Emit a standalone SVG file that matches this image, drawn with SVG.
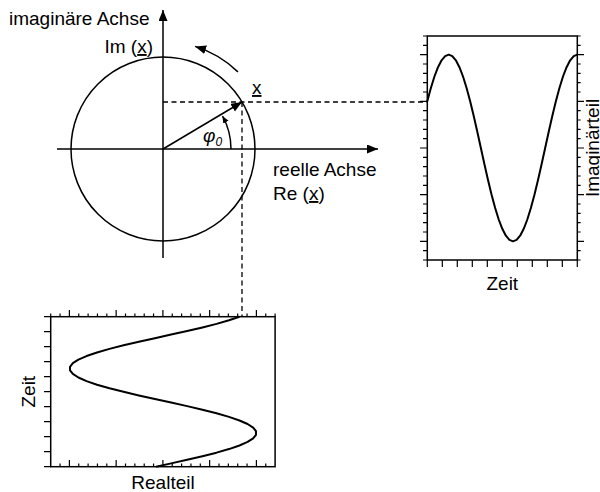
<svg xmlns="http://www.w3.org/2000/svg" width="600" height="492" viewBox="0 0 600 492">
<style>
text { font-family: "Liberation Sans", Arial, sans-serif; font-size: 19px; fill: #000; }
.ln { stroke: #000; stroke-width: 1.5; fill: none; }
.dash { stroke: #000; stroke-width: 1.3; stroke-dasharray: 5 3.5; fill: none; }
.tick { stroke: #000; stroke-width: 1.2; fill: none; }
.curve { stroke: #000; stroke-width: 2; fill: none; stroke-linejoin: round; }
.ul { text-decoration: underline; }
</style>
<defs>
<marker id="ah" markerUnits="userSpaceOnUse" markerWidth="12" markerHeight="10" refX="11" refY="4.5" orient="auto"><path d="M0,0 L11,4.5 L0,9 z" fill="#000"/></marker>
<marker id="ahs" markerUnits="userSpaceOnUse" markerWidth="8" markerHeight="7" refX="7" refY="3" orient="auto"><path d="M0,0 L7,3 L0,6 z" fill="#000"/></marker>
</defs>
<rect width="600" height="492" fill="#fff"/>

<g id="complex-plane">
  <circle cx="163" cy="149" r="92" class="ln"/>
  <line x1="163" y1="258" x2="163" y2="10" class="ln" marker-end="url(#ah)"/>
  <line x1="57" y1="149" x2="378" y2="149" class="ln" marker-end="url(#ah)"/>
  <line x1="163" y1="149" x2="242" y2="102" class="ln" marker-end="url(#ah)"/>
  <path d="M231,149 A68,68 0 0 0 222.5,116" class="ln" stroke-width="1.3" marker-end="url(#ahs)"/>
  <path d="M237.9,71.9 A107.5,107.5 0 0 0 195.1,46.4" class="ln" marker-end="url(#ah)"/>
  <text x="9" y="25">imaginäre Achse</text>
  <text x="153" y="53" text-anchor="end">Im (<tspan class="ul">x</tspan>)</text>
  <text x="273" y="176">reelle Achse</text>
  <text x="273" y="200">Re (<tspan class="ul">x</tspan>)</text>
  <text x="252" y="94" class="ul">x</text>
  <text x="203" y="142" font-style="italic">φ<tspan font-size="12" dy="4">0</tspan></text>
</g>

<g id="connectors">
  <line x1="163" y1="102" x2="427.3" y2="102" class="dash"/>
  <line x1="242" y1="102" x2="242" y2="316.7" class="dash"/>
</g>

<g id="imag-plot">
  <rect x="427.3" y="36" width="150" height="224" class="ln"/>
  <path class="tick" d="M427.3,36H423 M427.3,45.33H423 M427.3,54.67H420 M427.3,64H423 M427.3,73.33H423 M427.3,82.67H423 M427.3,92H423 M427.3,101.33H420 M427.3,110.67H423 M427.3,120H423 M427.3,129.33H423 M427.3,138.67H423 M427.3,148H420 M427.3,157.33H423 M427.3,166.67H423 M427.3,176H423 M427.3,185.33H423 M427.3,194.67H420 M427.3,204H423 M427.3,213.33H423 M427.3,222.67H423 M427.3,232H423 M427.3,241.33H420 M427.3,250.67H423 M427.3,260H423"/>
  <path class="tick" d="M577.3,36H580.6 M577.3,45.33H580.6 M577.3,54.67H584 M577.3,64H580.6 M577.3,73.33H580.6 M577.3,82.67H580.6 M577.3,92H580.6 M577.3,101.33H584 M577.3,110.67H580.6 M577.3,120H580.6 M577.3,129.33H580.6 M577.3,138.67H580.6 M577.3,148H584 M577.3,157.33H580.6 M577.3,166.67H580.6 M577.3,176H580.6 M577.3,185.33H580.6 M577.3,194.67H584 M577.3,204H580.6 M577.3,213.33H580.6 M577.3,222.67H580.6 M577.3,232H580.6 M577.3,241.33H584 M577.3,250.67H580.6 M577.3,260H580.6"/>
  <path class="tick" d="M427.3,260V267 M442.3,260V267 M457.3,260V267 M472.3,260V267 M487.3,260V267 M502.3,260V267 M517.3,260V267 M532.3,260V267 M547.3,260V267 M562.3,260V267 M577.3,260V267"/>
  <polyline class="curve" points="427.30,101.33 430.87,88.00 434.44,76.51 438.01,67.17 441.59,60.30 445.16,56.09 448.73,54.67 452.30,56.09 455.87,60.30 459.44,67.17 463.01,76.51 466.59,88.00 470.16,101.33 473.73,116.08 477.30,131.80 480.87,148.00 484.44,164.20 488.01,179.92 491.59,194.67 495.16,208.00 498.73,219.49 502.30,228.83 505.87,235.70 509.44,239.91 513.01,241.33 516.59,239.91 520.16,235.70 523.73,228.83 527.30,219.49 530.87,208.00 534.44,194.67 538.01,179.92 541.59,164.20 545.16,148.00 548.73,131.80 552.30,116.08 555.87,101.33 559.44,88.00 563.01,76.51 566.59,67.17 570.16,60.30 573.73,56.09 577.30,54.67"/>
  <text x="502.3" y="290" text-anchor="middle">Zeit</text>
  <text transform="translate(599,148) rotate(-90)" text-anchor="middle">Imaginärteil</text>
</g>

<g id="real-plot">
  <rect x="50.7" y="316.7" width="224.4" height="150" class="ln"/>
  <path class="tick" d="M50.7,316.7H44 M50.7,331.7H44 M50.7,346.7H44 M50.7,361.7H44 M50.7,376.7H44 M50.7,391.7H44 M50.7,406.7H44 M50.7,421.7H44 M50.7,436.7H44 M50.7,451.7H44 M50.7,466.7H44"/>
  <path class="tick" d="M50.7,316.7V313.4 M60.05,316.7V313.4 M69.4,316.7V310 M78.75,316.7V313.4 M88.1,316.7V313.4 M97.45,316.7V313.4 M106.8,316.7V313.4 M116.15,316.7V310 M125.5,316.7V313.4 M134.85,316.7V313.4 M144.2,316.7V313.4 M153.55,316.7V313.4 M162.9,316.7V310 M172.25,316.7V313.4 M181.6,316.7V313.4 M190.95,316.7V313.4 M200.3,316.7V313.4 M209.65,316.7V310 M219,316.7V313.4 M228.35,316.7V313.4 M237.7,316.7V313.4 M247.05,316.7V313.4 M256.4,316.7V310 M265.75,316.7V313.4 M275.1,316.7V313.4"/>
  <path class="tick" d="M60.05,466.7V463.4 M69.4,466.7V460 M78.75,466.7V463.4 M88.1,466.7V463.4 M97.45,466.7V463.4 M106.8,466.7V463.4 M116.15,466.7V460 M125.5,466.7V463.4 M134.85,466.7V463.4 M144.2,466.7V463.4 M153.55,466.7V463.4 M162.9,466.7V460 M172.25,466.7V463.4 M181.6,466.7V463.4 M190.95,466.7V463.4 M200.3,466.7V463.4 M209.65,466.7V460 M219,466.7V463.4 M228.35,466.7V463.4 M237.7,466.7V463.4 M247.05,466.7V463.4 M256.4,466.7V460 M265.75,466.7V463.4"/>
  <polyline class="curve" points="239.45,316.70 228.99,320.28 216.53,323.86 202.44,327.43 187.15,331.01 171.13,334.59 154.87,338.17 138.85,341.74 123.56,345.32 109.47,348.90 97.01,352.48 86.55,356.06 78.41,359.63 72.85,363.21 70.02,366.79 70.02,370.37 72.85,373.94 78.41,377.52 86.55,381.10 97.01,384.68 109.47,388.26 123.56,391.83 138.85,395.41 154.87,398.99 171.13,402.57 187.15,406.14 202.44,409.72 216.53,413.30 228.99,416.88 239.45,420.46 247.59,424.03 253.15,427.61 255.98,431.19 255.98,434.77 253.15,438.34 247.59,441.92 239.45,445.50 228.99,449.08 216.53,452.66 202.44,456.23 187.15,459.81 171.13,463.39 156.00,466.70"/>
  <text x="163" y="489" text-anchor="middle">Realteil</text>
  <text transform="translate(35,391.7) rotate(-90)" text-anchor="middle">Zeit</text>
</g>
</svg>
